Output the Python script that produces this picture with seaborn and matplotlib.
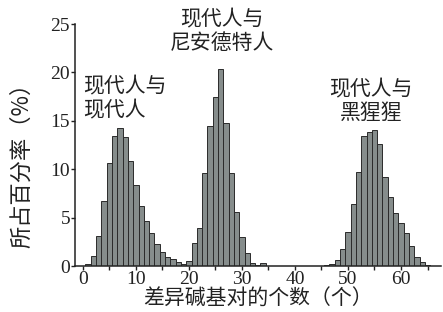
import matplotlib
matplotlib.use("Agg")
import matplotlib.pyplot as plt
import pandas as pd
import seaborn as sns

# differences in base pairs and share of pairs (%) for each comparison
diff_mm = list(range(1, 20))
pct_mm = [0.2, 1.0, 3.1, 6.7, 10.6, 13.4, 14.3, 13.3, 10.9, 8.35,
          6.2, 4.7, 3.4, 2.3, 1.5, 0.9, 0.7, 0.4, 0.2]

diff_mn = list(range(20, 35))
pct_mn = [0.5, 2.4, 3.9, 9.6, 14.5, 17.5, 20.4, 14.8, 9.6, 5.6,
          3.0, 1.4, 0.3, 0.1, 0.3]

diff_mc = list(range(46, 66))
pct_mc = [0.1, 0.2, 0.6, 1.8, 3.5, 6.4, 9.7, 13.4, 13.9, 14.1,
          12.6, 9.2, 7.1, 5.5, 4.5, 3.4, 2.1, 0.9, 0.4, 0.15]

labels = ["现代人与\n现代人", "现代人与\n尼安德特人", "现代人与\n黑猩猩"]

df = pd.DataFrame({
    "diff": diff_mm + diff_mn + diff_mc,
    "pct": pct_mm + pct_mn + pct_mc,
})

sns.set_style("ticks")
plt.rcParams["font.family"] = ["Liberation Serif", "Noto Sans CJK SC"]
cjk = ["Noto Sans CJK SC", "DejaVu Sans"]

fig = plt.figure(figsize=(4.43, 3.12), dpi=100)
ax = fig.add_axes([0.169, 0.147, 0.826, 0.776])

sns.histplot(data=df, x="diff", weights="pct", discrete=True, ax=ax,
             color="#868d8c", edgecolor="#2b2b2b", linewidth=0.7, alpha=1)

ax.set_xlim(-1.5, 67.5)
ax.set_ylim(0, 25)
ax.set_xticks(range(0, 70, 5))
ax.set_xticklabels([str(v) if v % 10 == 0 else "" for v in range(0, 70, 5)])
ax.set_yticks(range(0, 30, 5))
ax.tick_params(axis="both", labelsize=14, length=3, width=1, pad=0.5, colors="#222222")
sns.despine(ax=ax)
for s in ["left", "bottom"]:
    ax.spines[s].set_linewidth(1.1)
    ax.spines[s].set_color("#222222")

ax.set_xlabel("差异碱基对的个数（个）", family=cjk, fontsize=15, labelpad=0, color="#222222")
ax.set_ylabel("所占百分率（%）", family=cjk, fontsize=16, color="#222222")
ax.yaxis.set_label_coords(-0.113, 0.44)

ax.text(0, 17.3, labels[0], family=cjk, fontsize=15, ha="left", va="center",
        linespacing=1.1, color="#222222")
ax.text(26.2, 24.3, labels[1], family=cjk, fontsize=15, ha="center", va="center",
        linespacing=1.1, color="#222222", clip_on=False)
ax.text(54.3, 17.0, labels[2], family=cjk, fontsize=15, ha="center", va="center",
        linespacing=1.1, color="#222222")

fig.savefig("out.png", dpi=100)
